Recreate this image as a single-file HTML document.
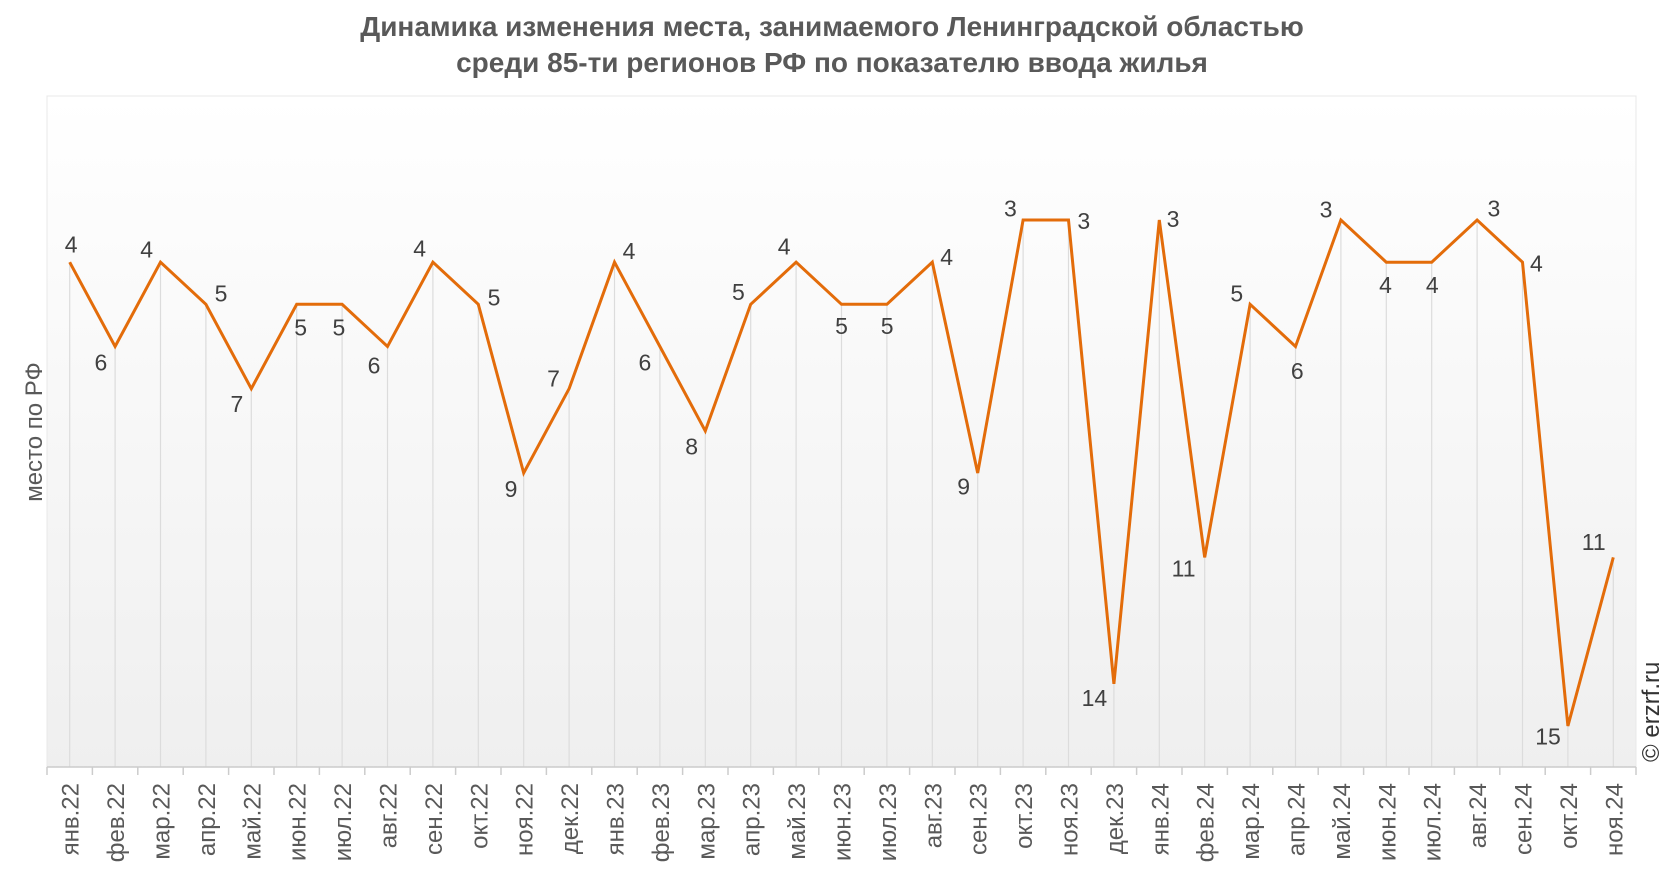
<!DOCTYPE html>
<html><head><meta charset="utf-8"><style>
body{margin:0;background:#fff;}
svg text{font-family:"Liberation Sans",Arial,sans-serif;}
</style></head><body>
<svg width="1666" height="872" xmlns="http://www.w3.org/2000/svg">
<defs><linearGradient id="g" x1="0" y1="0" x2="0" y2="1"><stop offset="0" stop-color="#ffffff"/><stop offset="1" stop-color="#efefef"/></linearGradient></defs>
<text x="832" y="36" text-anchor="middle" font-size="28" font-weight="bold" fill="#595959">Динамика изменения места, занимаемого Ленинградской областью</text>
<text x="832" y="72" text-anchor="middle" font-size="28" font-weight="bold" fill="#595959">среди 85-ти регионов РФ по показателю ввода жилья</text>
<rect x="47" y="96" width="1589" height="671" fill="url(#g)" stroke="#e8e8e8"/>
<text transform="translate(42,432) rotate(-90)" text-anchor="middle" font-size="24" fill="#595959">место по РФ</text>
<text transform="translate(1659,762) rotate(-90)" font-size="24" fill="#333">© erzrf.ru</text>
<g id="c"></g>
</svg>
<script>
var v=[4,6,4,5,7,5,5,6,4,5,9,7,4,6,8,5,4,5,5,4,9,3,3,14,3,11,5,6,3,4,4,3,4,15,11];
var m=["янв","фев","мар","апр","май","июн","июл","авг","сен","окт","ноя","дек"];
var L=[[67,230],[95,341],[138,235],[208,276],[223,380],[283,308],[319,308],[352,344],[395,234],[465,280],[481,460],[521,356],[592,236],[607,341],[651,420],[695,275],[738,232],[792,307],[835,307],[891,242],[907,458],[951,196],[1020,208],[1030,657],[1104,206],[1114,535],[1164,276],[1221,349],[1248,197],[1304,268],[1348,268],[1406,196],[1446,248],[1457,693],[1500,510]];
var s="",pts=[];var w=1589/35;
for(var i=0;i<35;i++){var x=47+w*(i+0.5),y=220+(v[i]-3)*42.17;pts.push(x.toFixed(1)+","+y.toFixed(1));
s+='<line x1="'+x+'" y1="'+y+'" x2="'+x+'" y2="767" stroke="#dcdcdc" stroke-width="1.2"/>';
var bx=47+w*i;s+='<line x1="'+bx+'" y1="767" x2="'+bx+'" y2="775" stroke="#ccc" stroke-width="1.5"/>';
var lab=m[i%12]+"."+(22+Math.floor(i/12));
s+='<text transform="translate('+(x+9)+',783) rotate(-90)" text-anchor="end" font-size="24" fill="#595959">'+lab+'</text>';
s+='<text x="'+(L[i][0]*1.0625)+'" y="'+(L[i][1]*1.0625+8)+'" text-anchor="middle" font-size="23" fill="#404040">'+v[i]+'</text>';}
s+='<line x1="47" y1="767" x2="1636" y2="767" stroke="#ccc" stroke-width="1.5"/><line x1="1636" y1="767" x2="1636" y2="775" stroke="#ccc" stroke-width="1.5"/>';
s+='<polyline points="'+pts.join(" ")+'" fill="none" stroke="#e36c0a" stroke-width="3" stroke-linejoin="miter"/>';
document.getElementById("c").innerHTML=s;
</script>
</body></html>
